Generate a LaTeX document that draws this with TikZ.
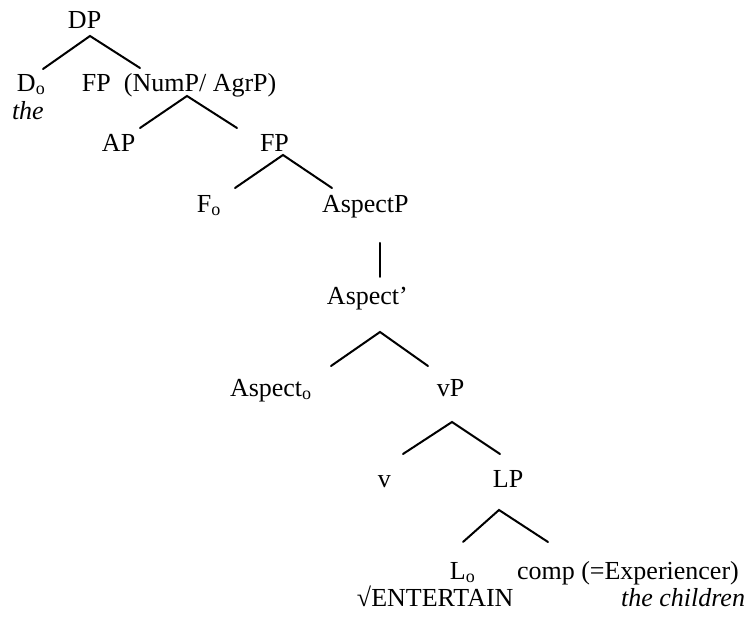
\documentclass[tikz,border=0pt]{standalone}
\usepackage{fontspec}
\setmainfont{Liberation Serif}
\newcommand\subo{\raisebox{-1.2pt}{\fontsize{9}{10}\selectfont o}}
\begin{document}
\begin{tikzpicture}[x=0.5pt,y=-0.5pt,
  lab/.style={inner sep=0pt,outer sep=0pt,anchor=base west,font=\fontsize{13}{15.6}\selectfont},
  branch/.style={line width=1pt,line cap=round}]
\useasboundingbox (0,0) rectangle (752,619);
% labels
\node[lab] (DP) at (68,29) {DP};
\node[lab] (Do) at (17,92) {D\subo};
\node[lab,font=\fontsize{13}{15.6}\selectfont\itshape] (the) at (12,120) {the};
\node[lab] (FP1) at (82,92) {FP\ \ (NumP/ AgrP)};
\node[lab] (AP) at (102,152) {AP};
\node[lab] (FP2) at (260,152) {FP};
\node[lab] (Fo) at (197,213) {F\subo};
\node[lab] (AspP) at (322,213) {AspectP};
\node[lab] (AspBar) at (327,305) {Aspect’};
\node[lab] (Aspo) at (230,397) {Aspect\subo};
\node[lab] (vP) at (437,397) {vP};
\node[lab] (v) at (378,488) {v};
\node[lab] (LP) at (493,488) {LP};
\node[lab] (Lo) at (450,580) {L\subo};
\node[lab] (comp) at (517,580) {comp (=Experiencer)};
\node[lab] (root) at (357,607) {√ENTERTAIN};
\node[lab,anchor=base east,font=\fontsize{13}{15.6}\selectfont\itshape] (child) at (745,607) {the children};
% branch points
\coordinate (DPa) at (90,36);
\coordinate (Dot) at (43,69);
\coordinate (FP1t) at (140,68);
\coordinate (FP1a) at (187,96);
\coordinate (APt) at (140,128);
\coordinate (FP2t) at (237,128);
\coordinate (FP2a) at (283,155);
\coordinate (Fot) at (235,188);
\coordinate (AspPt) at (332,188);
\coordinate (AspPb) at (380,243);
\coordinate (AspBart) at (380,277);
\coordinate (AspBara) at (380,332);
\coordinate (Aspot) at (331,366);
\coordinate (vPt) at (428,366);
\coordinate (vPa) at (452,422);
\coordinate (vt) at (403,454);
\coordinate (LPt) at (500,454);
\coordinate (LPa) at (499,510);
\coordinate (Lot) at (463,542);
\coordinate (compt) at (548,542);
% branches
\draw[branch] (Dot) -- (DPa) -- (FP1t);
\draw[branch] (APt) -- (FP1a) -- (FP2t);
\draw[branch] (Fot) -- (FP2a) -- (AspPt);
\draw[branch] (AspPb) -- (AspBart);
\draw[branch] (Aspot) -- (AspBara) -- (vPt);
\draw[branch] (vt) -- (vPa) -- (LPt);
\draw[branch] (Lot) -- (LPa) -- (compt);
\end{tikzpicture}
\end{document}
